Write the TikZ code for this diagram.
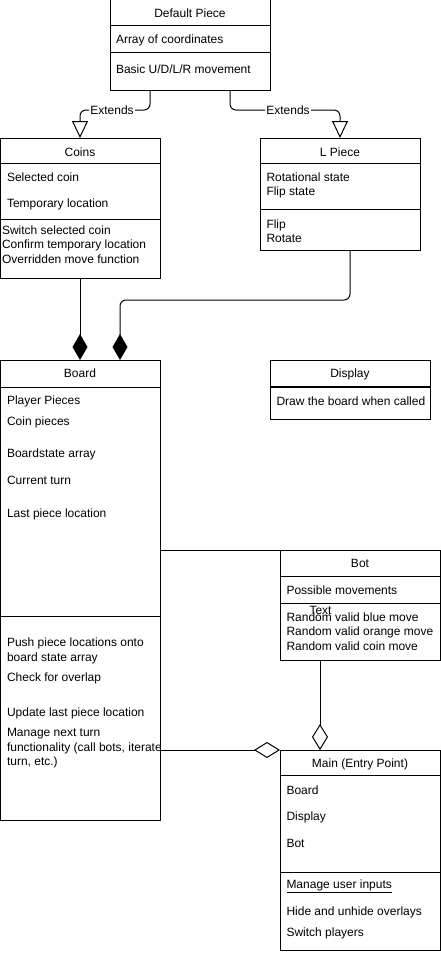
\documentclass[tikz,border=0pt]{standalone}
\usepackage{fontspec}
\setmainfont{Liberation Sans}
\usetikzlibrary{arrows.meta}
\begin{document}
\begin{tikzpicture}[x=1pt,y=-1pt,
  every node/.style={font=\fontsize{12pt}{14pt}\selectfont, inner sep=0pt, outer sep=0pt},
  box/.style={draw, line width=1pt, rectangle, anchor=north west},
  lbl/.style={anchor=base west},
  ttl/.style={anchor=base},
  conn/.style={line width=1pt},
  ext/.style={conn, rounded corners=6pt, -{Triangle[open,length=17pt,width=16pt]}},
  comp/.style={conn, rounded corners=6pt, -{Diamond[length=26pt,width=15pt]}},
  aggr/.style={conn, -{Diamond[open,length=26pt,width=16pt]}},
  sep/.style={line width=1pt}
]
\useasboundingbox (0,0) rectangle (441,958);

% Default Piece
\node[box, minimum width=160pt, minimum height=90pt] (dp) at (110,0) {};
\draw[sep] ([yshift=-26pt]dp.north west) -- ([yshift=-26pt]dp.north east);
\draw[sep] ([yshift=-53pt]dp.north west) -- ([yshift=-53pt]dp.north east);
\node[ttl] (dpt) at (190,18) {Default Piece};
\node[lbl] (dp1) at (116,44) {Array of coordinates};
\node[lbl] (dp2) at (116,74) {Basic U/D/L/R movement};

% Coins
\node[box, minimum width=160pt, minimum height=140pt] (coins) at (0,138) {};
\draw[sep] ([yshift=-25pt]coins.north west) -- ([yshift=-25pt]coins.north east);
\draw[sep] ([yshift=-81pt]coins.north west) -- ([yshift=-81pt]coins.north east);
\node[ttl] (coinst) at (80,156) {Coins};
\node[lbl] (c1) at (7,181.5) {Selected coin};
\node[lbl] (c2) at (7,207) {Temporary location};
\node[lbl] (c3) at (2,234) {Switch selected coin};
\node[lbl] (c4) at (2,248.5) {Confirm temporary location};
\node[lbl] (c5) at (2,263) {Overridden move function};

% L Piece
\node[box, minimum width=160pt, minimum height=112pt] (lp) at (260,138) {};
\draw[sep] ([yshift=-25pt]lp.north west) -- ([yshift=-25pt]lp.north east);
\draw[sep] ([yshift=-71pt]lp.north west) -- ([yshift=-71pt]lp.north east);
\node[ttl] (lpt) at (340,156) {L Piece};
\node[lbl] (l1) at (266.5,181.5) {Rotational state};
\node[lbl] (l2) at (266.5,195.5) {Flip state};
\node[lbl] (l3) at (266.5,228) {Flip};
\node[lbl] (l4) at (266.5,242) {Rotate};

% Board
\node[box, minimum width=160pt, minimum height=460pt] (board) at (0,360) {};
\draw[sep] ([yshift=-27pt]board.north west) -- ([yshift=-27pt]board.north east);
\draw[sep] ([yshift=-256pt]board.north west) -- ([yshift=-256pt]board.north east);
\node[ttl] (boardt) at (80,377.7) {Board};
\node[lbl] (b1) at (7,404) {Player Pieces};
\node[lbl] (b2) at (7,425.7) {Coin pieces};
\node[lbl] (b3) at (7,457.7) {Boardstate array};
\node[lbl] (b4) at (7,484) {Current turn};
\node[lbl] (b5) at (7,517.7) {Last piece location};
\begin{scope}
\clip (0,616) rectangle (160,820);
\node[lbl] (b6) at (7,646) {Push piece locations onto};
\node[lbl] (b7) at (7,661) {board state array};
\node[lbl] (b8) at (7,681.7) {Check for overlap};
\node[lbl] (b9) at (7,716) {Update last piece location};
\node[lbl] (b10) at (7,736.5) {Manage next turn};
\node[lbl] (b11) at (7,751) {functionality (call bots, iterate};
\node[lbl] (b12) at (7,765.5) {turn, etc.)};
\end{scope}

% Display
\node[box, minimum width=160pt, minimum height=59pt] (disp) at (270,360) {};
\draw[line width=1.6pt] ([yshift=-27pt]disp.north west) -- ([yshift=-27pt]disp.north east);
\node[ttl] (dispt) at (350,377.7) {Display};
\node[lbl] (d1) at (276.5,405) {Draw the board when called};

% Bot
\node[box, minimum width=160pt, minimum height=110pt] (bot) at (280,550) {};
\draw[sep] ([yshift=-26pt]bot.north west) -- ([yshift=-26pt]bot.north east);
\draw[sep] ([yshift=-53pt]bot.north west) -- ([yshift=-53pt]bot.north east);
\node[ttl] (bott) at (360,567) {Bot};
\node[lbl] (bo1) at (286.5,594) {Possible movements};
\node[lbl] (bo2) at (286.5,621.7) {Random valid blue move};
\node[lbl] (bo3) at (286.5,635.7) {Random valid orange move};
\node[lbl] (bo4) at (286.5,650) {Random valid coin move};
\node[ttl] (txt) at (320.5,614) {Text};

% Main
\node[box, minimum width=160pt, minimum height=200pt] (main) at (280,750) {};
\draw[sep] ([yshift=-25pt]main.north west) -- ([yshift=-25pt]main.north east);
\draw[sep] ([yshift=-122pt]main.north west) -- ([yshift=-122pt]main.north east);
\node[ttl] (maint) at (360,767) {Main (Entry Point)};
\node[lbl] (m1) at (286.5,794) {Board};
\node[lbl] (m2) at (286.5,820) {Display};
\node[lbl] (m3) at (286.5,847.3) {Bot};
\node[lbl] (m4) at (286.5,888.5) {\underline{Manage user inputs}};
\node[lbl] (m5) at (286.5,915.5) {Hide and unhide overlays};
\node[lbl] (m6) at (286.5,936) {Switch players};

% Connectors
\draw[ext] ([xshift=-40pt]dp.south) -- ++(0,20) -| (coins.north);
\draw[ext] ([xshift=40pt]dp.south) -- ++(0,20) -| (lp.north);
\node[ttl, fill=white, inner xsep=1pt, inner ysep=1pt] (e1) at (112,114) {Extends};
\node[ttl, fill=white, inner xsep=1pt, inner ysep=1pt] (e2) at (288,114) {Extends};

\draw[comp] (coins.south) -- (board.north);
\draw[comp] ([xshift=10pt]lp.south) -- ++(0,50) -| ([xshift=40pt]board.north);

\draw[conn] (board.east |- bot.north west) -- (bot.north west);
\draw[aggr] ([xshift=-40pt]bot.south) -- ([xshift=-40pt]main.north);
\draw[aggr] (board.east |- main.north west) -- (main.north west);
\end{tikzpicture}
\end{document}
